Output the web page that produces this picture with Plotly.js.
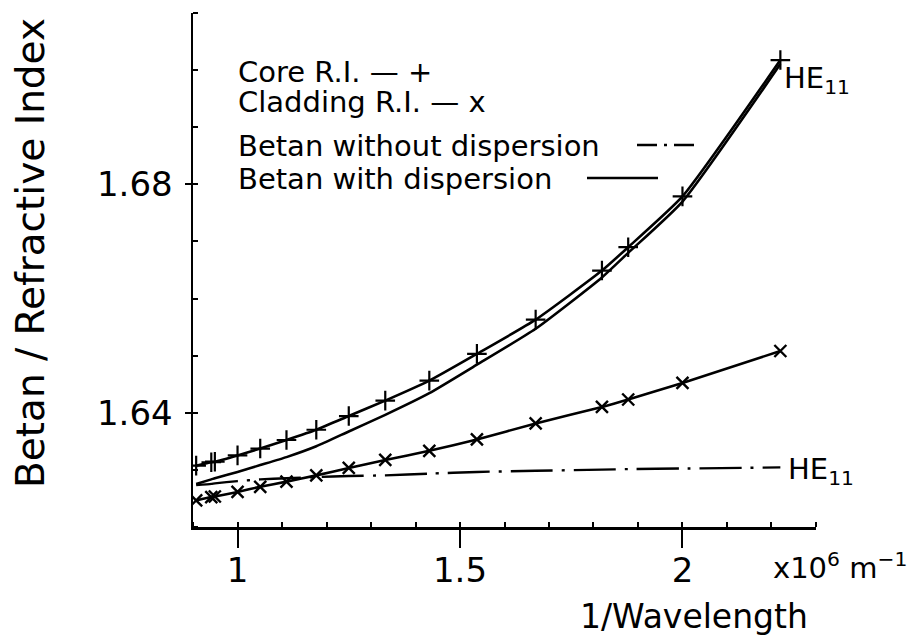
<!DOCTYPE html>
<html>
<head>
<meta charset="utf-8">
<script src="https://cdn.plot.ly/plotly-3.0.1.min.js"></script>
<style>
  html, body { margin: 0; padding: 0; background: #fff; }
  #chart { width: 916px; height: 643px; }
</style>
</head>
<body>
<div id="chart"></div>
<script>
// 1/wavelength sample points (x 10^6 m^-1)
const invWavelength = [0.907, 0.941, 0.949, 1.0, 1.051, 1.11, 1.177, 1.25, 1.332, 1.431, 1.538, 1.67, 1.819, 1.878, 2.0, 2.22];

// Core refractive index (+ markers)
const coreRI = [1.6307, 1.6313, 1.6314, 1.6325, 1.6337, 1.6352, 1.6370, 1.6394, 1.6421, 1.6456, 1.6503, 1.6563, 1.6649, 1.6690, 1.6779, 1.7018];

// Cladding refractive index (x markers)
const claddingRI = [1.6246, 1.6252, 1.6253, 1.6261, 1.6270, 1.6279, 1.6290, 1.6303, 1.6317, 1.6333, 1.6353, 1.6381, 1.6410, 1.6423, 1.6452, 1.6508];

// Normalised propagation constant of HE11, material dispersion ignored
const betanNoDispersion = [1.6273, 1.6275, 1.6276, 1.6280, 1.6283, 1.6285, 1.6287, 1.6289, 1.6290, 1.6293, 1.6296, 1.6298, 1.6300, 1.6301, 1.6302, 1.6304];

// Normalised propagation constant of HE11, material dispersion included
const betanDispersion = [1.6275, 1.6283, 1.6285, 1.6296, 1.6308, 1.6322, 1.6341, 1.6367, 1.6396, 1.6434, 1.6484, 1.6547, 1.6637, 1.6680, 1.6770, 1.7011];

// Axis ticks
const xTickVals = [1, 1.5, 2];
const xTickText = ['1', '1.5', '2'];
const yTickVals = [1.64, 1.68];
const yTickText = ['1.64', '1.68'];

const legendRows = ['Core R.I. \u2014 +', 'Cladding R.I. \u2014 x', 'Betan without dispersion', 'Betan with dispersion'];
const modeLabel = 'HE<sub>11</sub>';
const xTitle = '1/Wavelength';
const yTitle = 'Betan / Refractive Index';
const xUnit = 'x10<sup>6</sup> m<sup>\u22121</sup>';

// ---- geometry of the plotting frame (pixels) ----
const W = 916, H = 643;
const plotL = 193, plotR = 816, plotT = 13, plotB = 527;
const px = p => (p - plotL) / (plotR - plotL);
const py = p => (plotB - p) / (plotB - plotT);

const ink = '#000';
const textFont = 'DejaVu Sans, Arial, sans-serif';
const xRange = [0.8999, 2.3001];
const yRange = [1.61995, 1.71005];

const traces = [
  {
    x: invWavelength, y: betanNoDispersion, mode: 'lines', name: 'Betan without dispersion',
    line: { color: ink, width: 2.4, dash: '42px,9px,3px,9px', shape: 'spline', smoothing: 0.5 },
    hoverinfo: 'skip'
  },
  {
    x: invWavelength, y: betanDispersion, mode: 'lines', name: 'Betan with dispersion',
    line: { color: ink, width: 2.6, shape: 'spline', smoothing: 0.5 },
    hoverinfo: 'skip'
  },
  {
    x: invWavelength, y: coreRI, mode: 'lines+markers', name: 'Core R.I.',
    line: { color: ink, width: 2.6, shape: 'spline', smoothing: 0.5 },
    marker: { symbol: 'cross-thin', size: 14, color: ink, line: { color: ink, width: 2.2 } },
    hoverinfo: 'skip'
  },
  {
    x: invWavelength, y: claddingRI, mode: 'lines+markers', name: 'Cladding R.I.',
    line: { color: ink, width: 2.6, shape: 'spline', smoothing: 0.5 },
    marker: { symbol: 'x-thin', size: 12, color: ink, line: { color: ink, width: 2.4 } },
    hoverinfo: 'skip'
  }
];

const annotations = [];
const legendY = [72, 102, 146, 179];
legendRows.forEach((t, i) => {
  annotations.push({
    xref: 'paper', yref: 'paper', x: px(236), y: py(legendY[i]),
    xanchor: 'left', yanchor: 'middle', showarrow: false, text: t,
    font: { family: textFont, size: 29, color: ink }
  });
});

// mode labels at the ends of the propagation-constant curves
const last = invWavelength.length - 1;
annotations.push({
  x: invWavelength[last], y: betanDispersion[last], xref: 'x', yref: 'y',
  xanchor: 'left', yanchor: 'middle', xshift: 2, yshift: -16, showarrow: false,
  text: modeLabel, font: { family: textFont, size: 29, color: ink }
});
annotations.push({
  x: invWavelength[last], y: betanNoDispersion[last], xref: 'x', yref: 'y',
  xanchor: 'left', yanchor: 'middle', xshift: 6, yshift: -4, showarrow: false,
  text: modeLabel, font: { family: textFont, size: 29, color: ink }
});

// unit next to the x tick labels, and both axis titles
annotations.push({
  xref: 'paper', yref: 'paper', x: px(771), y: py(566), xanchor: 'left', yanchor: 'middle',
  showarrow: false, text: xUnit,
  font: { family: textFont, size: 29, color: ink }
});
annotations.push({
  xref: 'paper', yref: 'paper', x: px(578), y: py(616), xanchor: 'left', yanchor: 'middle',
  showarrow: false, text: xTitle,
  font: { family: textFont, size: 33, color: ink }
});
annotations.push({
  xref: 'paper', yref: 'paper', x: px(30), y: py(253), xanchor: 'center', yanchor: 'middle',
  textangle: -90, showarrow: false, text: yTitle,
  font: { family: textFont, size: 39, color: ink }
});

// line samples after the two Betan legend rows
const shapes = [
  { type: 'line', xref: 'paper', yref: 'paper', x0: px(637), x1: px(696), y0: py(145), y1: py(145),
    line: { color: ink, width: 2.4, dash: '20px,7px,3px,7px' } },
  { type: 'line', xref: 'paper', yref: 'paper', x0: px(587), x1: px(658), y0: py(178), y1: py(178),
    line: { color: ink, width: 2.6 } }
];

const layout = {
  width: W, height: H,
  paper_bgcolor: '#fff', plot_bgcolor: '#fff',
  margin: { l: plotL, r: W - plotR, t: plotT, b: H - plotB, pad: 0 },
  showlegend: false,
  font: { family: textFont, color: ink },
  xaxis: {
    range: xRange, showgrid: false, zeroline: false,
    showline: true, linecolor: ink, linewidth: 2.5,
    tickmode: 'array', tickvals: xTickVals, ticktext: xTickText,
    ticks: 'outside', ticklen: 18, tickwidth: 2, tickcolor: ink,
    ticklabelstandoff: -6,
    tickfont: { family: textFont, size: 34, color: ink },
    minor: { tick0: 0, dtick: 0.1, ticks: 'inside', ticklen: 5, tickwidth: 2, tickcolor: ink, showgrid: false }
  },
  xaxis2: {
    overlaying: 'x', anchor: 'y', side: 'bottom', range: xRange,
    showgrid: false, zeroline: false, showline: false, showticklabels: false,
    tickmode: 'array', tickvals: xTickVals, ticks: 'inside', ticklen: 9, tickwidth: 2, tickcolor: ink
  },
  yaxis: {
    range: yRange, showgrid: false, zeroline: false,
    showline: true, linecolor: ink, linewidth: 2.5,
    tickmode: 'array', tickvals: yTickVals, ticktext: yTickText,
    ticks: 'outside', ticklen: 6, tickwidth: 2, tickcolor: ink,
    ticklabelstandoff: 5,
    tickfont: { family: textFont, size: 34, color: ink },
    minor: { tick0: 1.6, dtick: 0.01, ticks: 'inside', ticklen: 5, tickwidth: 2, tickcolor: ink, showgrid: false }
  },
  yaxis2: {
    overlaying: 'y', anchor: 'x', side: 'left', range: yRange,
    showgrid: false, zeroline: false, showline: false, showticklabels: false,
    tickmode: 'array', tickvals: yTickVals, ticks: 'inside', ticklen: 5, tickwidth: 2, tickcolor: ink
  },
  annotations: annotations,
  shapes: shapes
};

Plotly.newPlot('chart', traces, layout, { staticPlot: true, displayModeBar: false });
</script>
</body>
</html>
